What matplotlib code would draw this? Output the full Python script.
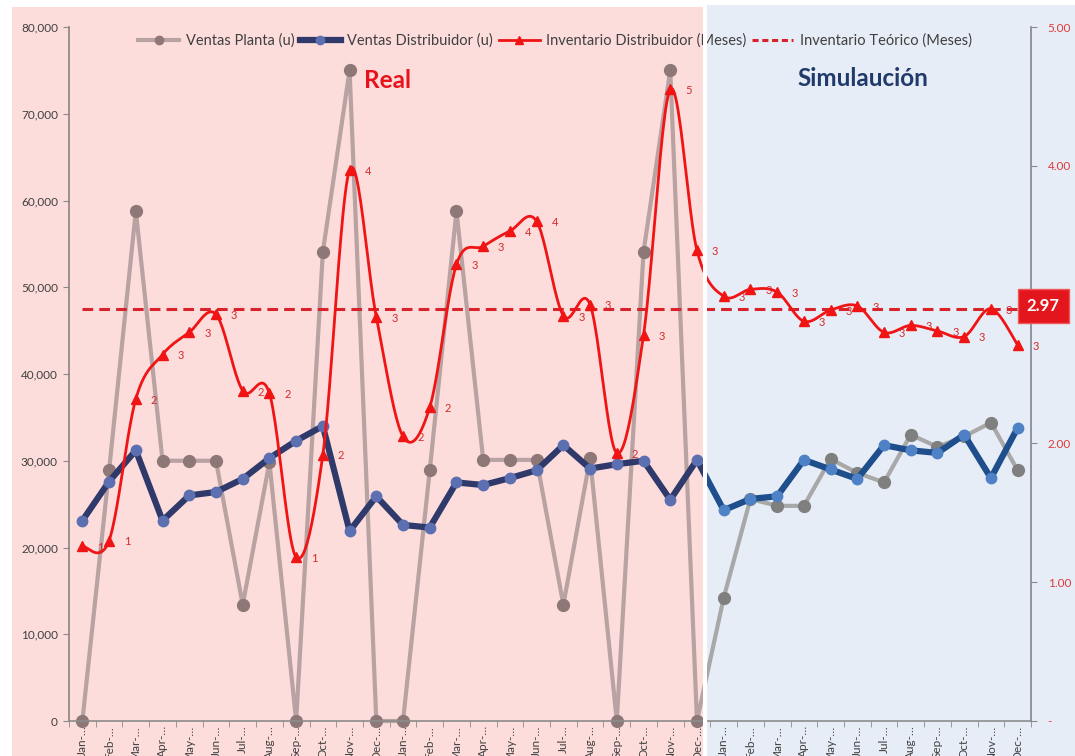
import numpy as np
import matplotlib
matplotlib.use("Agg")
import matplotlib.pyplot as plt
from matplotlib.patches import Rectangle
from matplotlib.lines import Line2D
from matplotlib.ticker import FuncFormatter, MultipleLocator, FixedLocator

plt.rcParams['font.family'] = ['Lato', 'DejaVu Sans']

# ---- data -------------------------------------------------------------
months = ["Jan", "Feb", "Mar", "Apr", "May", "Jun",
          "Jul", "Aug", "Sep", "Oct", "Nov", "Dec"]
tick_labels = [f"{m}-\u2026" for m in months * 3]

ventas_planta = [0, 28900, 58800, 30000, 30000, 30000, 13400, 29800, 0, 54100, 75000, 0,
                 0, 28900, 58800, 30100, 30100, 30100, 13400, 30300, 0, 54100, 75000, 0,
                 14200, 25600, 24800, 24800, 30200, 28600, 27500, 33000, 31600, 32800, 34400, 28900]

ventas_distribuidor = [23100, 27600, 31200, 23100, 26000, 26400, 27900, 30300, 32300, 34000, 21900, 25900,
                       22600, 22300, 27500, 27200, 28000, 28900, 31800, 29100, 29600, 30000, 25500, 30100,
                       24300, 25600, 25900, 30100, 29000, 27900, 31800, 31200, 30900, 33000, 28000, 33800]

inventario_meses = [1.26, 1.30, 2.32, 2.64, 2.80, 2.93, 2.38, 2.36, 1.18, 1.92, 3.97, 2.91,
                    2.05, 2.26, 3.29, 3.42, 3.53, 3.60, 2.92, 3.00, 1.93, 2.78, 4.55, 3.39,
                    3.06, 3.11, 3.09, 2.88, 2.96, 2.99, 2.80, 2.85, 2.81, 2.77, 2.97, 2.71]

inventario_teorico = 2.97

series_names = ["Ventas Planta (u)", "Ventas Distribuidor (u)",
                "Inventario Distribuidor (Meses)", "Inventario Teórico (Meses)"]


def smooth(xv, yv, steps=24):
    """Bezier smoothing through every point (Catmull-Rom style)."""
    x = np.asarray(xv, float)
    y = np.asarray(yv, float)
    n = len(x)
    xs, ys = [], []
    for i in range(n - 1):
        p0 = np.array([x[max(i - 1, 0)], y[max(i - 1, 0)]])
        p1 = np.array([x[i], y[i]])
        p2 = np.array([x[i + 1], y[i + 1]])
        p3 = np.array([x[min(i + 2, n - 1)], y[min(i + 2, n - 1)]])
        c1 = p1 + (p2 - p0) / 6.0
        c2 = p2 - (p3 - p1) / 6.0
        t = np.linspace(0, 1, steps, endpoint=(i == n - 2))[:, None]
        pts = ((1 - t) ** 3) * p1 + 3 * ((1 - t) ** 2) * t * c1 + 3 * (1 - t) * t ** 2 * c2 + t ** 3 * p2
        xs.append(pts[:, 0])
        ys.append(pts[:, 1])
    return np.concatenate(xs), np.concatenate(ys)


# ---- figure & backgrounds ----------------------------------------------
W, H = 1075, 756
fig = plt.figure(figsize=(W / 100, H / 100), dpi=100)
fig.patch.set_facecolor("white")


def fx(px):
    return px / W


def fy(py):
    return 1 - py / H


split_px = 705
fig.add_artist(Rectangle((fx(12), 0), fx(split_px) - fx(12), fy(7), transform=fig.transFigure,
                         facecolor="#FCDDDC", edgecolor="none", zorder=-10))
fig.add_artist(Rectangle((fx(split_px), 0), 1 - fx(split_px), fy(5), transform=fig.transFigure,
                         facecolor="#E7EDF6", edgecolor="none", zorder=-10))
fig.add_artist(Rectangle((fx(703), 0), fx(707) - fx(703), 1, transform=fig.transFigure,
                         facecolor="white", edgecolor="none", zorder=5))

ax = fig.add_axes([fx(69), fy(721), fx(1031) - fx(69), fy(27) - fy(721)])
ax.set_facecolor("none")
ax2 = ax.twinx()
ax2.set_facecolor("none")

x = np.arange(len(ventas_planta))

real_clip = Rectangle((0, 0), fx(split_px), 1, transform=fig.transFigure)
sim_clip = Rectangle((fx(split_px), 0), 1 - fx(split_px), 1, transform=fig.transFigure)

gray_styles = [(real_clip, "#B8A2A2", "#8E7777"), (sim_clip, "#A8A8A8", "#7F7F7F")]
navy_styles = [(real_clip, "#2F3A6B", "#5C6FB0"), (sim_clip, "#1F4E8C", "#4F81C7")]

for clip, lc, mc in gray_styles:
    ln, = ax.plot(x, ventas_planta, color=lc, lw=3.0, marker="o", ms=8.5,
                  mfc=mc, mec=mc, zorder=2)
    ln.set_clip_path(clip)

for clip, lc, mc in navy_styles:
    ln, = ax.plot(x, ventas_distribuidor, color=lc, lw=4.5, marker="o", ms=7.5,
                  mfc=mc, mec=mc, zorder=3, solid_joinstyle="round")
    ln.set_clip_path(clip)

ax.set_xlim(-0.5, len(x) - 0.5)
ax.set_ylim(0, 80000)

# secondary axis: months of inventory
red = "#F01414"
ax2.plot(x, [inventario_teorico] * len(x), color="#D8232A", lw=2.2,
         dashes=(3.5, 2.0), zorder=2, clip_on=False)
sx, sy = smooth(x, inventario_meses)
ax2.plot(sx, sy, color=red, lw=2.0, zorder=3, clip_on=False)
ax2.plot(x, inventario_meses, ls="none", marker="^", ms=7, color=red, zorder=3, clip_on=False)
for i, v in enumerate(inventario_meses):
    ax2.annotate(f"{v:.0f}", xy=(i, v), xytext=(13, -1), textcoords="offset points",
                 ha="center", va="center", fontsize=8, color="#D42A2A", zorder=4)

ax2.annotate(f"{inventario_teorico:.2f}", xy=(len(x) - 1, inventario_teorico), xytext=(18.5, 2),
             textcoords="offset points", ha="center", va="center", color="white",
             fontsize=12, fontweight="bold", zorder=10, annotation_clip=False,
             bbox=dict(boxstyle="square,pad=0.55", fc="#E3161E", ec="#EE5A5A", lw=1))
ax2.set_ylim(0, 5)

# ---- axes styling -------------------------------------------------------
ax.yaxis.set_major_locator(MultipleLocator(10000))
ax.yaxis.set_major_formatter(FuncFormatter(lambda v, p: f"{v:,.0f}"))
ax.tick_params(axis="y", direction="out", length=4, color="#8A8A8A",
               labelsize=8.5, labelcolor="#404040", pad=4)
ax.set_xticks(x)
ax.set_xticklabels(tick_labels, rotation=90, fontsize=8.5, color="#404040")
ax.xaxis.set_minor_locator(FixedLocator(np.arange(-0.5, len(x), 1.0)))
ax.tick_params(axis="x", which="major", length=0, pad=3)
ax.tick_params(axis="x", which="minor", direction="out", length=4, color="#8A8A8A")
for s in ["top", "right"]:
    ax.spines[s].set_visible(False)
ax.spines["left"].set_color("#8C8282")
ax.spines["bottom"].set_color("#8C8C8C")
ax.spines["left"].set_linewidth(1.2)
ax.spines["bottom"].set_linewidth(1.2)

ax2.yaxis.set_major_locator(MultipleLocator(1))
ax2.yaxis.set_major_formatter(FuncFormatter(lambda v, p: "-" if abs(v) < 1e-9 else f"{v:.2f}"))
ax2.tick_params(axis="y", direction="out", length=4, color="#8A8A8A",
                labelsize=8.5, labelcolor="#E03A3A", pad=8)
for s in ["top", "left", "bottom"]:
    ax2.spines[s].set_visible(False)
ax2.spines["right"].set_color("#7F8490")
ax2.spines["right"].set_linewidth(1.2)

# ---- legend -------------------------------------------------------------
handles = [
    Line2D([], [], color="#B8A2A2", lw=3.0, marker="o", ms=6, mfc="#8E7777", mec="#8E7777"),
    Line2D([], [], color="#2F3A6B", lw=4.5, marker="o", ms=6, mfc="#5C6FB0", mec="#5C6FB0"),
    Line2D([], [], color=red, lw=2.0, marker="^", ms=6),
    Line2D([], [], color="#D8232A", lw=2.2, dashes=(2.0, 1.2)),
]
leg = ax2.legend(handles, series_names, loc="center", bbox_to_anchor=(fx(555), fy(41)),
                 bbox_transform=fig.transFigure, ncol=4, frameon=False, fontsize=10.5,
                 handlelength=2.8, handletextpad=0.45, columnspacing=0.4, labelcolor="#404040")
leg.set_zorder(6)

# ---- section titles -----------------------------------------------------
fig.text(fx(387), fy(80), "Real", ha="center", va="center", fontsize=17.5,
         fontweight="bold", color="#E8121C")
fig.text(fx(863), fy(78), "Simulaución", ha="center", va="center", fontsize=17.5,
         fontweight="bold", color="#1F3A6B")

fig.savefig("out.png", dpi=100, facecolor="white")
